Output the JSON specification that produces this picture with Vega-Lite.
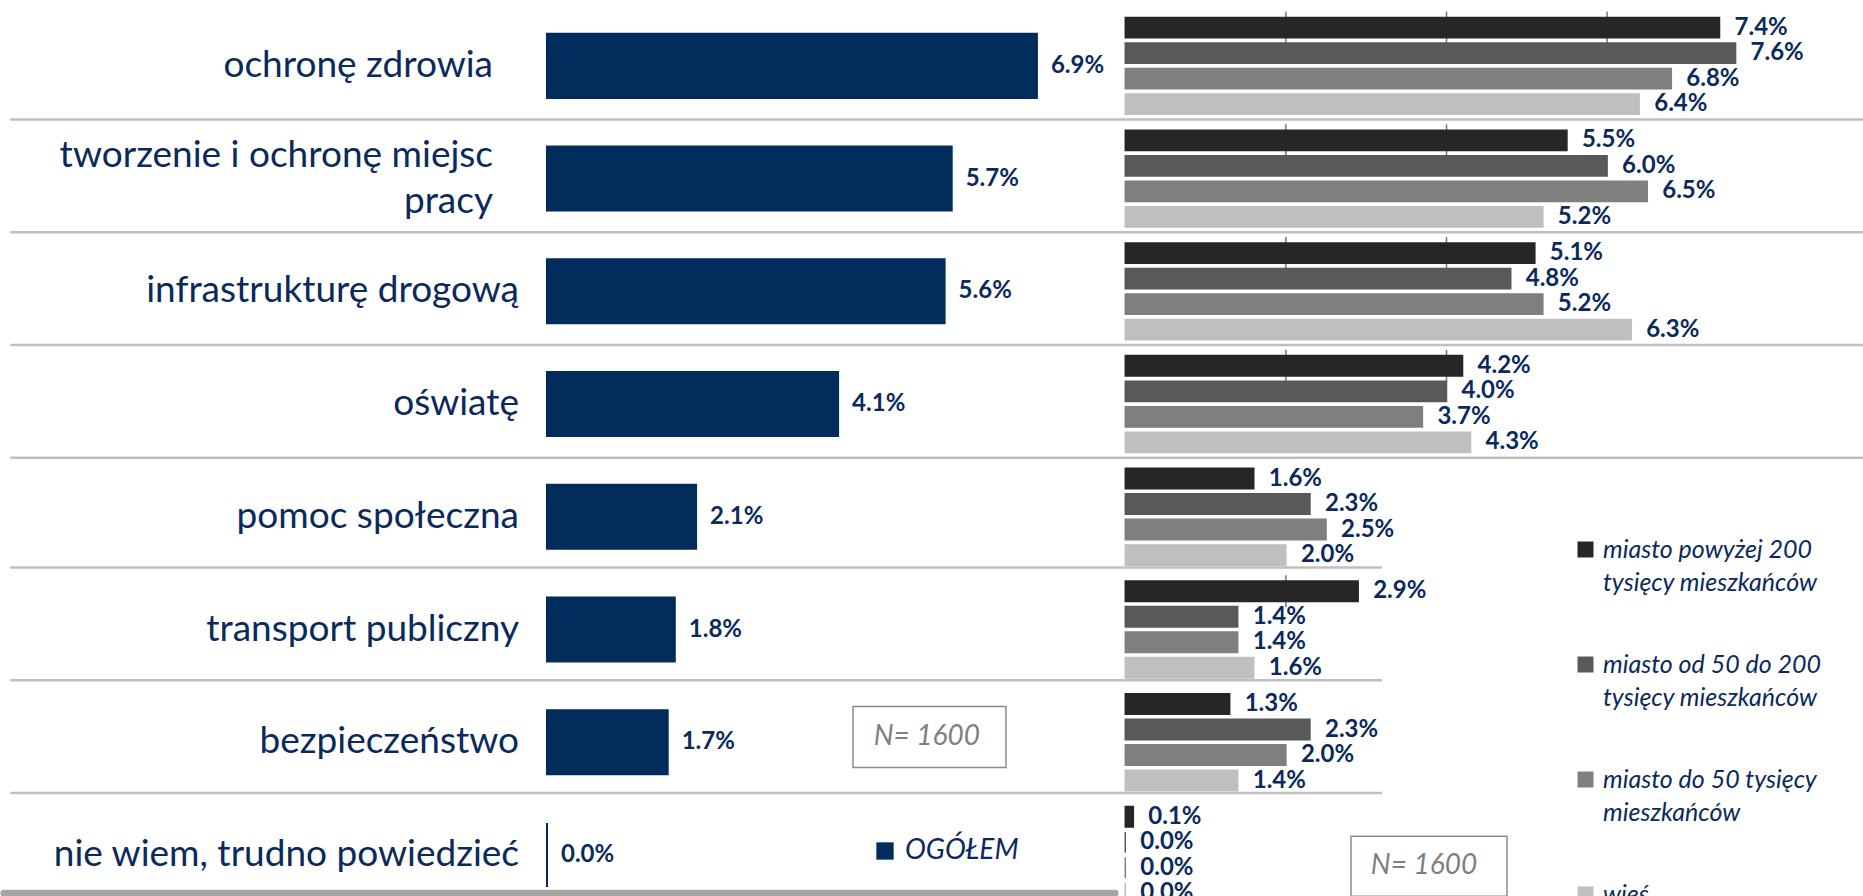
{
  "$schema": "https://vega.github.io/schema/vega-lite/v6.json",
  "width": 1863,
  "height": 896,
  "padding": 0,
  "autosize": {"type": "none"},
  "background": "white",
  "config": {
    "view": {"stroke": null},
    "font": "Lato",
    "style": {"guide-label": {"lineHeight": 33}}
  },
  "datasets": {
    "overall": [
      {"category": "ochronę zdrowia", "label": "ochronę zdrowia", "group": "OGÓŁEM", "value": 0.069},
      {"category": "tworzenie i ochronę miejsc pracy", "label": "tworzenie i ochronę miejsc\npracy", "group": "OGÓŁEM", "value": 0.057},
      {"category": "infrastrukturę drogową", "label": "infrastrukturę drogową", "group": "OGÓŁEM", "value": 0.056},
      {"category": "oświatę", "label": "oświatę", "group": "OGÓŁEM", "value": 0.041},
      {"category": "pomoc społeczna", "label": "pomoc społeczna", "group": "OGÓŁEM", "value": 0.021},
      {"category": "transport publiczny", "label": "transport publiczny", "group": "OGÓŁEM", "value": 0.018},
      {"category": "bezpieczeństwo", "label": "bezpieczeństwo", "group": "OGÓŁEM", "value": 0.017},
      {"category": "nie wiem, trudno powiedzieć", "label": "nie wiem, trudno powiedzieć", "group": "OGÓŁEM", "value": 0.0}
    ],
    "groups": [
      {"category": "ochronę zdrowia", "series": "miasto powyżej 200 tysięcy mieszkańców", "value": 0.074},
      {"category": "ochronę zdrowia", "series": "miasto od 50 do 200 tysięcy mieszkańców", "value": 0.076},
      {"category": "ochronę zdrowia", "series": "miasto do 50 tysięcy mieszkańców", "value": 0.068},
      {"category": "ochronę zdrowia", "series": "wieś", "value": 0.064},
      {"category": "tworzenie i ochronę miejsc pracy", "series": "miasto powyżej 200 tysięcy mieszkańców", "value": 0.055},
      {"category": "tworzenie i ochronę miejsc pracy", "series": "miasto od 50 do 200 tysięcy mieszkańców", "value": 0.060},
      {"category": "tworzenie i ochronę miejsc pracy", "series": "miasto do 50 tysięcy mieszkańców", "value": 0.065},
      {"category": "tworzenie i ochronę miejsc pracy", "series": "wieś", "value": 0.052},
      {"category": "infrastrukturę drogową", "series": "miasto powyżej 200 tysięcy mieszkańców", "value": 0.051},
      {"category": "infrastrukturę drogową", "series": "miasto od 50 do 200 tysięcy mieszkańców", "value": 0.048},
      {"category": "infrastrukturę drogową", "series": "miasto do 50 tysięcy mieszkańców", "value": 0.052},
      {"category": "infrastrukturę drogową", "series": "wieś", "value": 0.063},
      {"category": "oświatę", "series": "miasto powyżej 200 tysięcy mieszkańców", "value": 0.042},
      {"category": "oświatę", "series": "miasto od 50 do 200 tysięcy mieszkańców", "value": 0.040},
      {"category": "oświatę", "series": "miasto do 50 tysięcy mieszkańców", "value": 0.037},
      {"category": "oświatę", "series": "wieś", "value": 0.043},
      {"category": "pomoc społeczna", "series": "miasto powyżej 200 tysięcy mieszkańców", "value": 0.016},
      {"category": "pomoc społeczna", "series": "miasto od 50 do 200 tysięcy mieszkańców", "value": 0.023},
      {"category": "pomoc społeczna", "series": "miasto do 50 tysięcy mieszkańców", "value": 0.025},
      {"category": "pomoc społeczna", "series": "wieś", "value": 0.020},
      {"category": "transport publiczny", "series": "miasto powyżej 200 tysięcy mieszkańców", "value": 0.029},
      {"category": "transport publiczny", "series": "miasto od 50 do 200 tysięcy mieszkańców", "value": 0.014},
      {"category": "transport publiczny", "series": "miasto do 50 tysięcy mieszkańców", "value": 0.014},
      {"category": "transport publiczny", "series": "wieś", "value": 0.016},
      {"category": "bezpieczeństwo", "series": "miasto powyżej 200 tysięcy mieszkańców", "value": 0.013},
      {"category": "bezpieczeństwo", "series": "miasto od 50 do 200 tysięcy mieszkańców", "value": 0.023},
      {"category": "bezpieczeństwo", "series": "miasto do 50 tysięcy mieszkańców", "value": 0.020},
      {"category": "bezpieczeństwo", "series": "wieś", "value": 0.014},
      {"category": "nie wiem, trudno powiedzieć", "series": "miasto powyżej 200 tysięcy mieszkańców", "value": 0.001},
      {"category": "nie wiem, trudno powiedzieć", "series": "miasto od 50 do 200 tysięcy mieszkańców", "value": 0.0},
      {"category": "nie wiem, trudno powiedzieć", "series": "miasto do 50 tysięcy mieszkańców", "value": 0.0},
      {"category": "nie wiem, trudno powiedzieć", "series": "wieś", "value": 0.0}
    ],
    "gridticks": [
      {"category": "ochronę zdrowia", "tick": 0.02},
      {"category": "ochronę zdrowia", "tick": 0.04},
      {"category": "ochronę zdrowia", "tick": 0.06},
      {"category": "tworzenie i ochronę miejsc pracy", "tick": 0.02},
      {"category": "tworzenie i ochronę miejsc pracy", "tick": 0.04},
      {"category": "infrastrukturę drogową", "tick": 0.02},
      {"category": "infrastrukturę drogową", "tick": 0.04},
      {"category": "oświatę", "tick": 0.02},
      {"category": "oświatę", "tick": 0.04},
      {"category": "transport publiczny", "tick": 0.02}
    ]
  },
  "layer": [
    {
      "data": {"name": "overall"},
      "encoding": {
        "y": {
          "field": "category", "type": "nominal", "axis": null, "sort": null,
          "scale": {
            "domain": ["ochronę zdrowia", "tworzenie i ochronę miejsc pracy", "infrastrukturę drogową", "oświatę", "pomoc społeczna", "transport publiczny", "bezpieczeństwo", "nie wiem, trudno powiedzieć"],
            "range": [9.5, 911.4], "paddingInner": 0, "paddingOuter": 0
          }
        }
      },
      "layer": [
        {
          "transform": [{"filter": {"field": "category", "oneOf": ["tworzenie i ochronę miejsc pracy", "infrastrukturę drogową", "oświatę", "pomoc społeczna"]}}],
          "mark": {"type": "rule", "color": "#BFBFBF", "strokeWidth": 2.5},
          "encoding": {
            "y": {"field": "category", "type": "nominal", "bandPosition": -0.025},
            "x": {"datum": -0.0756, "scale": {"domain": [-0.07704, 0.18535], "nice": false, "zero": false}, "axis": null},
            "x2": {"datum": 0.18535}
          }
        },
        {
          "transform": [{"filter": {"field": "category", "oneOf": ["transport publiczny", "bezpieczeństwo", "nie wiem, trudno powiedzieć"]}}],
          "mark": {"type": "rule", "color": "#BFBFBF", "strokeWidth": 2.5},
          "encoding": {
            "y": {"field": "category", "type": "nominal", "bandPosition": -0.05},
            "x": {"datum": -0.0756},
            "x2": {"datum": 0.1176}
          }
        },
        {
          "transform": [{"filter": {"field": "category", "equal": "nie wiem, trudno powiedzieć"}}],
          "mark": {"type": "rule", "color": "#A6A6A6", "strokeWidth": 7, "strokeCap": "round"},
          "encoding": {
            "y": {"field": "category", "type": "nominal", "bandPosition": 0.84},
            "x": {"datum": -0.0765},
            "x2": {"datum": 0.0800}
          }
        },
        {
          "mark": {"type": "bar", "height": {"band": 0.568}, "stroke": "#022C5B", "strokeWidth": 2},
          "encoding": {
            "x": {"field": "value", "type": "quantitative"},
            "x2": {"datum": 0},
            "color": {
              "field": "group", "type": "nominal",
              "scale": {"domain": ["OGÓŁEM"], "range": ["#022C5B"]},
              "legend": {
                "orient": "none", "legendX": 871, "legendY": 837, "title": null,
                "padding": 0, "symbolType": "square", "symbolSize": 300, "symbolStrokeWidth": 0,
                "labelFont": "Lato", "labelFontStyle": "italic", "labelFontSize": 28,
                "labelColor": "#0A2A5C", "labelOffset": 6
              }
            }
          }
        },
        {
          "mark": {"type": "text", "align": "left", "baseline": "middle", "dx": 14, "font": "Lato", "fontWeight": "bold", "fontSize": 24, "color": "#0A2A5C"},
          "encoding": {
            "x": {"field": "value", "type": "quantitative"},
            "text": {"field": "value", "type": "quantitative", "format": ".1%"}
          }
        },
        {
          "transform": [{"filter": {"field": "category", "equal": "ochronę zdrowia"}}],
          "mark": {"type": "text", "align": "right", "baseline": "middle", "dx": -54, "font": "Lato", "fontSize": 37, "color": "#0A2A5C"},
          "encoding": {
            "x": {"datum": 0},
            "text": {"field": "label", "type": "nominal"}
          }
        },
        {
          "transform": [{"filter": {"field": "category", "equal": "tworzenie i ochronę miejsc pracy"}}],
          "mark": {"type": "text", "align": "right", "baseline": "middle", "dx": -54, "dy": -23, "font": "Lato", "fontSize": 37, "color": "#0A2A5C", "lineBreak": "\n", "lineHeight": 46},
          "encoding": {
            "x": {"datum": 0},
            "text": {"field": "label", "type": "nominal"}
          }
        },
        {
          "transform": [{"filter": {"field": "category", "oneOf": ["infrastrukturę drogową", "oświatę", "pomoc społeczna", "transport publiczny", "bezpieczeństwo", "nie wiem, trudno powiedzieć"]}}],
          "mark": {"type": "text", "align": "right", "baseline": "middle", "dx": -28, "font": "Lato", "fontSize": 37, "color": "#0A2A5C"},
          "encoding": {
            "x": {"datum": 0},
            "text": {"field": "label", "type": "nominal"}
          }
        },
        {
          "transform": [{"filter": {"field": "category", "equal": "bezpieczeństwo"}}],
          "mark": {"type": "point", "shape": "M-1,-0.4H1V0.4H-1Z", "size": 23409, "filled": true, "fill": "white", "stroke": "#8C8C8C", "strokeWidth": 1.5, "opacity": 1},
          "encoding": {
            "x": {"datum": 0.05387},
            "y": {"field": "category", "type": "nominal", "bandPosition": 0.453}
          }
        },
        {
          "transform": [{"filter": {"field": "category", "equal": "bezpieczeństwo"}}],
          "mark": {"type": "text", "text": "N= 1600", "align": "center", "baseline": "middle", "font": "Lato", "fontStyle": "italic", "fontSize": 28, "color": "#7F7F7F"},
          "encoding": {
            "x": {"datum": 0.0535},
            "y": {"field": "category", "type": "nominal", "bandPosition": 0.453}
          }
        }
      ]
    },
    {
      "data": {"name": "groups"},
      "encoding": {
        "y": {
          "field": "category", "type": "nominal", "axis": null, "sort": null,
          "scale": {
            "domain": ["ochronę zdrowia", "tworzenie i ochronę miejsc pracy", "infrastrukturę drogową", "oświatę", "pomoc społeczna", "transport publiczny", "bezpieczeństwo", "nie wiem, trudno powiedzieć"],
            "range": [9.5, 911.4], "paddingInner": 0, "paddingOuter": 0
          }
        }
      },
      "layer": [
        {
          "data": {"name": "gridticks"},
          "mark": {"type": "tick", "orient": "vertical", "size": 32, "thickness": 1.5, "color": "#3A3A3A"},
          "encoding": {
            "x": {"field": "tick", "type": "quantitative", "scale": {"domain": [-0.14014, 0.09187], "nice": false, "zero": false}, "axis": null},
            "yOffset": {"datum": "miasto powyżej 200 tysięcy mieszkańców"}
          }
        },
        {
          "mark": {"type": "bar", "strokeWidth": 1.5},
          "encoding": {
            "x": {"field": "value", "type": "quantitative"},
            "x2": {"datum": 0},
            "yOffset": {
              "field": "series", "type": "nominal", "sort": null,
              "scale": {
                "domain": ["miasto powyżej 200 tysięcy mieszkańców", "miasto od 50 do 200 tysięcy mieszkańców", "miasto do 50 tysięcy mieszkańców", "wieś"],
                "paddingInner": 0.2, "paddingOuter": 0.31
              }
            },
            "color": {
              "field": "series", "type": "nominal", "sort": null,
              "scale": {
                "domain": ["miasto powyżej 200 tysięcy mieszkańców", "miasto od 50 do 200 tysięcy mieszkańców", "miasto do 50 tysięcy mieszkańców", "wieś"],
                "range": ["#262626", "#595959", "#7F7F7F", "#BFBFBF"]
              },
              "legend": {
                "orient": "none", "legendX": 1573, "legendY": 537, "title": null,
                "padding": 0, "symbolType": "square", "symbolSize": 256, "symbolStrokeWidth": 0,
                "labelFont": "Lato", "labelFontStyle": "italic", "labelFontSize": 25,
                "labelColor": "#0A2A5C", "labelOffset": 5, "labelLimit": 400,
                "labelBaseline": "middle", "rowPadding": 56,
                "labelExpr": "datum.label == 'wieś' ? 'wieś' : (datum.label == 'miasto do 50 tysięcy mieszkańców' ? ['miasto do 50 tysięcy', 'mieszkańców'] : [replace(datum.label, ' tysięcy mieszkańców', ''), 'tysięcy mieszkańców'])"
              }
            },
            "stroke": {
              "field": "series", "type": "nominal", "sort": null, "legend": null,
              "scale": {
                "domain": ["miasto powyżej 200 tysięcy mieszkańców", "miasto od 50 do 200 tysięcy mieszkańców", "miasto do 50 tysięcy mieszkańców", "wieś"],
                "range": ["#262626", "#595959", "#7F7F7F", "#BFBFBF"]
              }
            }
          }
        },
        {
          "mark": {"type": "text", "align": "left", "baseline": "middle", "dx": 15, "font": "Lato", "fontWeight": "bold", "fontSize": 24, "color": "#0A2A5C"},
          "encoding": {
            "x": {"field": "value", "type": "quantitative"},
            "yOffset": {"field": "series", "type": "nominal", "sort": null},
            "text": {"field": "value", "type": "quantitative", "format": ".1%"}
          }
        },
        {
          "transform": [{"filter": "datum.category == 'nie wiem, trudno powiedzieć' && datum.series == 'wieś'"}],
          "mark": {"type": "point", "shape": "M-1,-0.385H1V0.385H-1Z", "size": 24336, "filled": true, "fill": "white", "stroke": "#8C8C8C", "strokeWidth": 1.5, "opacity": 1},
          "encoding": {
            "x": {"datum": 0.03782},
            "y": {"field": "category", "type": "nominal", "bandPosition": 0.6}
          }
        },
        {
          "transform": [{"filter": "datum.category == 'nie wiem, trudno powiedzieć' && datum.series == 'wieś'"}],
          "mark": {"type": "text", "text": "N= 1600", "align": "center", "baseline": "middle", "font": "Lato", "fontStyle": "italic", "fontSize": 28, "color": "#7F7F7F"},
          "encoding": {
            "x": {"datum": 0.0372},
            "y": {"field": "category", "type": "nominal", "bandPosition": 0.6}
          }
        }
      ]
    }
  ],
  "resolve": {"scale": {"x": "independent", "color": "independent"}}
}
